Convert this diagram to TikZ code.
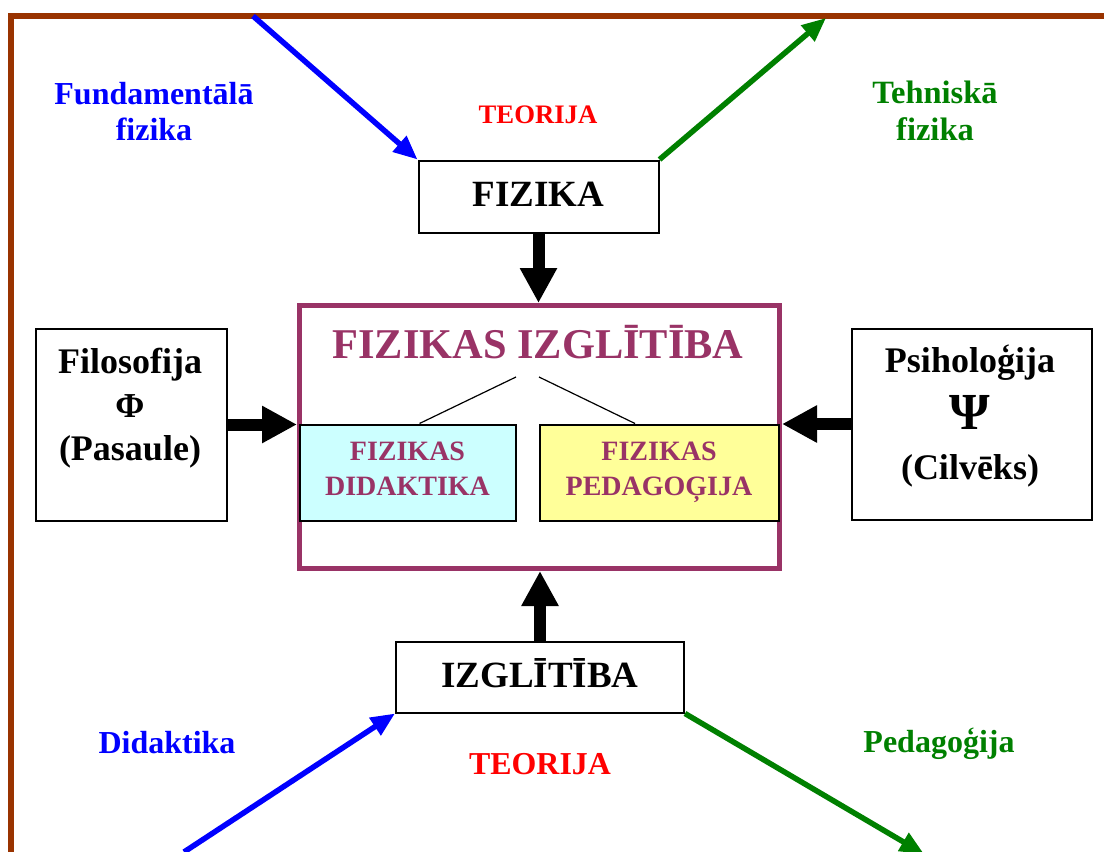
\documentclass[tikz,border=0pt]{standalone}
\usepackage{fontspec}
\setmainfont{Liberation Serif}
\usetikzlibrary{arrows.meta}
\definecolor{bruns}{HTML}{993300}
\definecolor{violets}{HTML}{993366}
\definecolor{zals}{HTML}{008000}
\definecolor{gaisi}{HTML}{CCFFFF}
\definecolor{dzelt}{HTML}{FFFF99}
\newcommand{\burti}[2]{\fontsize{#1}{#2}\selectfont\bfseries}

\begin{document}
\begin{tikzpicture}[x=1pt, y=-1pt, >=Stealth, inner sep=0pt,
  kaste/.style={draw, line width=2pt, align=center},
  tieva/.style={line width=5.5pt, -{Triangle[length=24pt,width=20pt]}},
  bloks/.style={line width=12pt, -{Triangle[length=35pt,width=35pt]}}]
  \useasboundingbox (0,0) rectangle (1104,852);

  % rāmis
  \draw[bruns, line width=6pt] (11,852) -- (11,16) -- (1104,16);

  % fizikas izglītība
  \node[draw=violets, line width=5pt, minimum width=480pt, minimum height=263pt] (fizizgl) at (539.5,437) {};
  \node[anchor=base, text=violets, font=\burti{42.4}{50}] (virsraksts) at (538,358) {FIZIKAS IZGLĪTĪBA};
  \node[kaste, fill=gaisi, text=violets, font=\burti{28}{35}, minimum width=216pt, minimum height=96pt] (didak) at (407.5,472.5) {FIZIKAS\\DIDAKTIKA\vphantom{Ģ}};
  \node[kaste, fill=dzelt, text=violets, font=\burti{28}{35}, minimum width=239pt, minimum height=96pt] (pedag) at (659,472.5) {FIZIKAS\\PEDAGOĢIJA};
  \coordinate (zl) at (516,377);
  \coordinate (zr) at (539,377);
  \draw[line width=1.2pt] (zl) -- ([xshift=12pt]didak.north);
  \draw[line width=1.2pt] (zr) -- ([xshift=-24pt]pedag.north);

  % augša
  \node[kaste, font=\burti{37}{44}, minimum width=240pt, minimum height=72pt, text height=20pt, text depth=0pt] (fizika) at (538.5,196.5) {FIZIKA};
  \node[anchor=base, text=red, font=\burti{26.7}{30}] (teor1) at (538,123) {TEORIJA};
  \node[anchor=north, align=center, text=blue, font=\burti{32}{36}] (fundt) at (154,82) {Fundamentālā\\fizika};
  \node[anchor=north, align=center, text=zals, font=\burti{32.5}{37}] (tehnt) at (935,81) {Tehniskā\\fizika};
  \coordinate (fundz) at (253,16);
  \coordinate (tehn) at (826,18);
  \draw[tieva, blue] (fundz) -- (fizika.north west);
  \draw[tieva, zals] (fizika.north east) -- (tehn);
  \draw[bloks] (fizika.south) -- (fizika.south |- fizizgl.north);

  % sāni
  \node[kaste, minimum width=191pt, minimum height=192pt] (filo) at (131,424.5) {};
  \node[anchor=north, align=center, font=\burti{36}{43.5}] (filot) at (130,348) {Filosofija\\{\burti{35}{40}Φ}\\(Pasaule)};
  \node[kaste, minimum width=240pt, minimum height=191pt] (psih) at (971.5,424) {};
  \node[anchor=north, align=center, font=\burti{36}{43.5}] (psiht) at (970,345) {Psiholoģija\\[13pt]{\burti{52}{56}Ψ}\\[7pt](Cilvēks)};
  \draw[bloks] (filo.east) -- (filo.east -| fizizgl.west);
  \draw[bloks] (psih.west) -- (psih.west -| fizizgl.east);

  % apakša
  \node[kaste, font=\burti{37}{44}, minimum width=288pt, minimum height=71pt, text height=20pt, text depth=0pt] (izgl) at (540,677) {IZGLĪTĪBA};
  \node[anchor=base, text=red, font=\burti{31.9}{36}] (teor2) at (540,774) {TEORIJA};
  \node[anchor=base, text=blue, font=\burti{32}{38}] (didt) at (167,753) {Didaktika};
  \node[anchor=base, text=zals, font=\burti{32}{38}] (pedt) at (939,752) {Pedagoģija};
  \coordinate (didz) at (184,852);
  \coordinate (pedz) at (924,854);
  \draw[tieva, blue] (didz) -- (izgl.south west);
  \draw[tieva, zals] (izgl.south east) -- (pedz);
  \draw[bloks] (izgl.north) -- (fizizgl.south -| izgl.north);
\end{tikzpicture}
\end{document}
